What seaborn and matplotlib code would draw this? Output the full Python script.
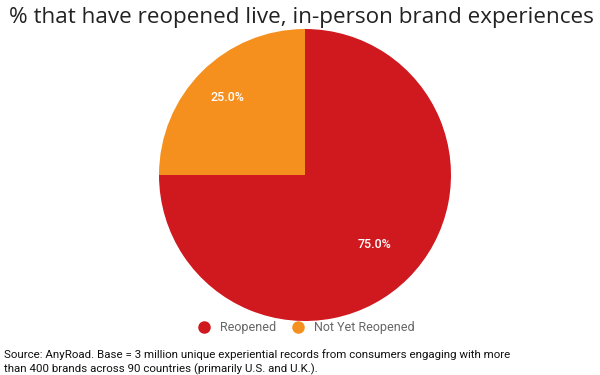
import matplotlib
matplotlib.use("Agg")
import numpy as np
import matplotlib.pyplot as plt
import seaborn as sns
from matplotlib.lines import Line2D

# data
labels = ["Reopened", "Not Yet Reopened"]
shares = [75.0, 25.0]
colors = ["#D0181F", "#F5901E"]

title = "% that have reopened live, in-person brand experiences"
source = ("Source: AnyRoad. Base = 3 million unique experiential records from consumers engaging with more\n"
          "than 400 brands across 90 countries (primarily U.S. and U.K.).")

sns.set_theme(style="white")
plt.rcParams['font.family'] = ['Roboto', 'DejaVu Sans']

fig = plt.figure(figsize=(6, 3.75), dpi=100)
fig.patch.set_facecolor("white")

# pie axes placed in pixel terms: center (305,175), radius 146
ax = fig.add_axes([(305 - 146) / 600, (375 - 175 - 146) / 375, 292 / 600, 292 / 375])
wedges, texts, autotexts = ax.pie(
    shares, colors=colors, startangle=90, counterclock=False,
    autopct="%.1f%%", radius=1, wedgeprops=dict(linewidth=0),
    textprops=dict(color="white", fontsize=9, family=['Roboto']))
# label distance differs a bit per wedge in the original
for w, t, d in zip(wedges, autotexts, [0.67, 0.75]):
    ang = np.deg2rad((w.theta1 + w.theta2) / 2)
    t.set_position((d * np.cos(ang), d * np.sin(ang)))
    t.set_fontweight("medium")
ax.set_xlim(-1, 1)
ax.set_ylim(-1, 1)
ax.set_aspect("equal")
ax.axis("off")

fig.text(0.503, 1 - 17 / 375, title, ha="center", va="center",
         fontsize=16.2, family=['Open Sans'], color="#222222")

handles = [Line2D([0], [0], marker="o", linestyle="", markersize=8,
                  markerfacecolor=c, markeredgecolor=c) for c in colors]
fig.legend(handles, labels, loc="center", bbox_to_anchor=(0.505, 1 - 328 / 375),
           ncol=2, frameon=False, fontsize=9, labelcolor="#666666",
           handletextpad=0.3, columnspacing=0.7)

fig.text(4 / 600, 1 - 362 / 375, source, ha="left", va="center",
         fontsize=8.25, color="#111111", linespacing=1.35)

fig.savefig("out.png", dpi=100, facecolor="white")
